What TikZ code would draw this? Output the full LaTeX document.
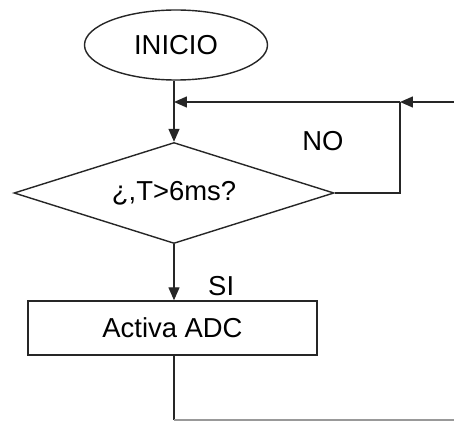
\documentclass[tikz,border=0pt]{standalone}
\usepackage{fontspec}
\setmainfont{Liberation Sans}
\usetikzlibrary{shapes, arrows.meta, positioning, calc}

\begin{document}
\begin{tikzpicture}[
        inicio/.style={ellipse, draw=black!85, thick, minimum width=3.66cm, minimum height=1.4cm, font=\fontsize{15.6}{18}\selectfont},
        decision/.style={diamond, draw=black!85, thick, minimum width=6.4cm, minimum height=2.02cm, aspect=3.17, inner sep=0pt, font=\fontsize{15.6}{18}\selectfont},
        proceso/.style={rectangle, draw=black!85, thick, minimum width=5.78cm, minimum height=1.08cm, font=\fontsize{15.6}{18}\selectfont},
        flecha/.style={-{Triangle[length=0.26cm, width=0.22cm]}, thick, draw=black!85},
        linea/.style={thick, draw=black!85},
        etiqueta/.style={font=\fontsize{15.6}{18}\selectfont, inner sep=2pt}
    ]
        \useasboundingbox (0, 0) rectangle (9.08, 8.42);
        \node[inicio] (ini) at (3.52, 7.52) {INICIO};
        \node[decision] (cond) at (3.48, 4.56) {¿,T>6ms?};
        \node[proceso] (adc) at (3.45, 1.86) {Activa ADC};
        \coordinate (union) at (3.48, 6.38);
        \coordinate (esquina) at (8.0, 6.38);
        \coordinate (entrada) at (9.08, 6.38);
        \coordinate (fin) at (3.48, 0.02);
        \coordinate (salida) at (9.08, 0.02);
        \draw[flecha] (ini.south -| union) -- (cond.north);
        \draw[flecha] (entrada) -- (esquina);
        \draw[flecha] (esquina) -- (union);
        \draw[linea] (cond.east) -| (esquina);
        \node[etiqueta] (no) at (6.46, 5.6) {NO};
        \draw[flecha] (cond.south) -- (adc.north -| cond.south) node[pos=0.75, right=0.6cm, etiqueta] {SI};
        \draw[linea] (adc.south -| fin) -- (fin);
        \draw[draw=black!40, thick] (fin) -- (salida);
    \end{tikzpicture}
\end{document}
